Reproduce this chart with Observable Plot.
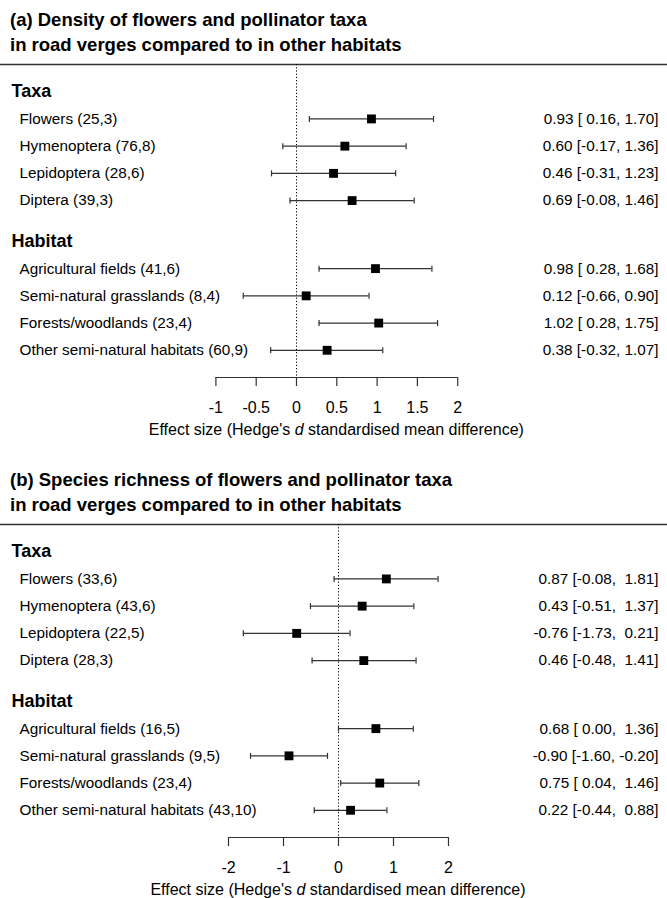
<!DOCTYPE html>
<html>
<head>
<meta charset="utf-8">
<script src="https://cdn.jsdelivr.net/npm/d3@7"></script>
<script src="https://cdn.jsdelivr.net/npm/@observablehq/plot@0.6"></script>
<style>
html, body { margin: 0; padding: 0; background: #fff; overflow: hidden; }
body { font-family: "Liberation Sans", Arial, sans-serif; color: #000; width: 667px; }
.panel { position: relative; width: 667px; height: 460px; }
.title { position: absolute; left: 10px; top: 7px; font-weight: bold; font-size: 18.5px; line-height: 25px; white-space: nowrap; }
.plot { position: absolute; left: 0; top: 55px; }
.xlabel { position: absolute; top: 421px; font-size: 16px; line-height: 18px; transform: translateX(-50%); white-space: nowrap; }
svg text { white-space: pre; }
</style>
</head>
<body>
<div id="a" class="panel"></div>
<div id="b" class="panel"></div>
<script>
// ---- data ----
const groupHeaders = ["Taxa", "Habitat"];
const headerRows = [0, 5.5];
const itemNames = ["Flowers", "Hymenoptera", "Lepidoptera", "Diptera",
  "Agricultural fields", "Semi-natural grasslands", "Forests/woodlands", "Other semi-natural habitats"];
const itemRows = [1, 2, 3, 4, 6.5, 7.5, 8.5, 9.5];

const densityCounts = ["25,3", "76,8", "28,6", "39,3", "41,6", "8,4", "23,4", "60,9"];
const densityEst  = [0.93, 0.60, 0.46, 0.69, 0.98, 0.12, 1.02, 0.38];
const densityLow  = [0.16, -0.17, -0.31, -0.08, 0.28, -0.66, 0.28, -0.32];
const densityHigh = [1.70, 1.36, 1.23, 1.46, 1.68, 0.90, 1.75, 1.07];
const densityTicks = [-1, -0.5, 0, 0.5, 1, 1.5, 2];

const richnessCounts = ["33,6", "43,6", "22,5", "28,3", "16,5", "9,5", "23,4", "43,10"];
const richnessEst  = [0.87, 0.43, -0.76, 0.46, 0.68, -0.90, 0.75, 0.22];
const richnessLow  = [-0.08, -0.51, -1.73, -0.48, 0.00, -1.60, 0.04, -0.44];
const richnessHigh = [1.81, 1.37, 0.21, 1.41, 1.36, -0.20, 1.46, 0.88];
const richnessTicks = [-2, -1, 0, 1, 2];

const yTop = -1, yBottom = 10.5;
const font = '"Liberation Sans", Arial, sans-serif';

const capSymbol = {
  draw(ctx, size) {
    const h = Math.sqrt(size / Math.PI);
    ctx.moveTo(0, -h);
    ctx.lineTo(0, h);
  }
};

function drawPanel(id, cfg) {
  const el = document.getElementById(id);
  const fmt = v => v.toFixed(2);
  const w = arr => d3.max(arr, v => fmt(v).length);
  const we = w(cfg.est), wl = w(cfg.low), wh = w(cfg.high);
  const rows = itemNames.map((name, i) => ({
    row: itemRows[i],
    label: `${name} (${cfg.counts[i]})`,
    est: cfg.est[i], low: cfg.low[i], high: cfg.high[i],
    ci: `${fmt(cfg.est[i]).padStart(we)} [${fmt(cfg.low[i]).padStart(wl)}, ${fmt(cfg.high[i]).padStart(wh)}]`
  }));
  const headers = groupHeaders.map((h, i) => ({label: h, row: headerRows[i]}));
  const ticks = cfg.ticks;

  const title = document.createElement("div");
  title.className = "title";
  title.innerHTML = cfg.title;
  el.appendChild(title);

  const plot = Plot.plot({
    width: 667, height: 405,
    marginTop: 9, marginBottom: 83, marginLeft: 0, marginRight: 0,
    x: {domain: [ticks[0], ticks[ticks.length - 1]], range: cfg.xRange},
    y: {domain: [yTop, yBottom], reverse: true, axis: null},
    style: {fontFamily: font, fontSize: "16px", background: "transparent", overflow: "visible", color: "#000"},
    marks: [
      Plot.ruleY([yTop], {stroke: "#333", strokeWidth: 1.6}),
      Plot.ruleX([0], {stroke: "#000", strokeWidth: 1, strokeDasharray: "1.2,2"}),
      Plot.ruleY(rows, {y: "row", x1: "low", x2: "high", stroke: "#333", strokeWidth: 1.2}),
      Plot.dot(rows, {x: "low", y: "row", symbol: capSymbol, r: 3, stroke: "#333", strokeWidth: 1.2, fill: "none"}),
      Plot.dot(rows, {x: "high", y: "row", symbol: capSymbol, r: 3, stroke: "#333", strokeWidth: 1.2, fill: "none"}),
      Plot.dot(rows, {x: "est", y: "row", symbol: "square", r: 5, fill: "#000", stroke: "none"}),
      Plot.text(headers, {y: "row", text: "label", frameAnchor: "left", dx: 11, textAnchor: "start", fontSize: 18, fontWeight: "bold", fill: "#000"}),
      Plot.text(rows, {y: "row", text: "label", frameAnchor: "left", dx: 19, textAnchor: "start", fontSize: 15.3, fill: "#000"}),
      Plot.text(rows, {y: "row", text: "ci", frameAnchor: "right", dx: -9, textAnchor: "end", fontSize: 15.3, fill: "#000"}),
      Plot.ruleY([yBottom], {x1: ticks[0], x2: ticks[ticks.length - 1], stroke: "#333", strokeWidth: 1.2}),
      Plot.axisX({ticks, tickSize: 9, tickPadding: 15, tickFormat: d => String(d), stroke: "#333", strokeWidth: 1.2, fill: "#000", fontSize: 16, label: null})
    ]
  });
  plot.classList.add("plot");
  el.appendChild(plot);

  const xs = plot.scale("x");
  const label = document.createElement("div");
  label.className = "xlabel";
  label.style.left = xs.apply((ticks[0] + ticks[ticks.length - 1]) / 2) + "px";
  label.innerHTML = "Effect size (Hedge's <i>d</i> standardised mean difference)";
  el.appendChild(label);
}

drawPanel("a", {
  title: "(a) Density of flowers and pollinator taxa<br>in road verges compared to in other habitats",
  counts: densityCounts, est: densityEst, low: densityLow, high: densityHigh,
  ticks: densityTicks, xRange: [215.4, 457.2]
});
drawPanel("b", {
  title: "(b) Species richness of flowers and pollinator taxa<br>in road verges compared to in other habitats",
  counts: richnessCounts, est: richnessEst, low: richnessLow, high: richnessHigh,
  ticks: richnessTicks, xRange: [228, 448]
});
</script>
</body>
</html>
